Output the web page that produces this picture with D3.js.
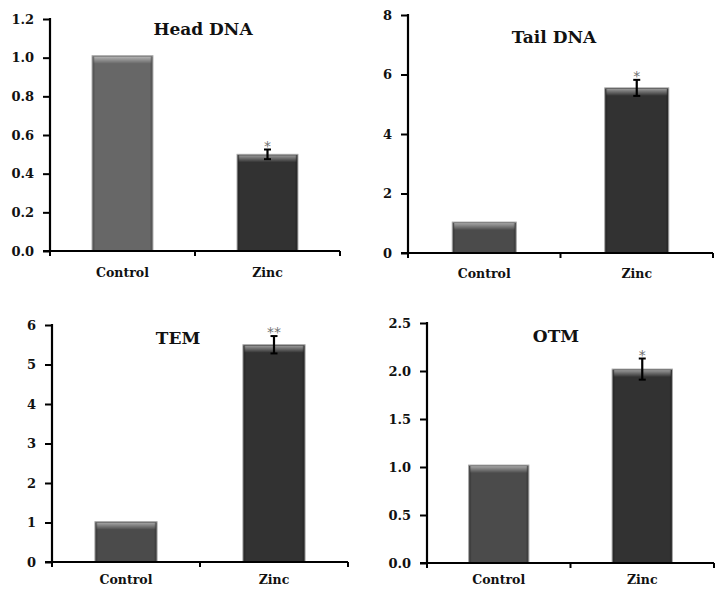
<!DOCTYPE html>
<html>
<head>
<meta charset="utf-8">
<script src="https://cdn.jsdelivr.net/npm/d3@7"></script>
<style>
  body { margin: 0; background: #fff; }
  svg { display: block; }
  text { font-family: "DejaVu Serif", "Liberation Serif", serif; font-weight: bold; fill: #111; }
</style>
</head>
<body>
<script>
// data
var categories = ["Control", "Zinc"];
var titles = ["Head DNA", "Tail DNA", "TEM", "OTM"];
var headDNA = [1.01, 0.50];
var tailDNA = [1.04, 5.55];
var tem = [1.02, 5.50];
var otm = [1.02, 2.02];
var zincErr = [0.025, 0.27, 0.22, 0.11];
var signif = ["*", "*", "**", "*"];
var yMax = [1.2, 8, 6, 2.5];
var yTicks = [
  [0, 0.2, 0.4, 0.6, 0.8, 1.0, 1.2],
  [0, 2, 4, 6, 8],
  [0, 1, 2, 3, 4, 5, 6],
  [0, 0.5, 1.0, 1.5, 2.0, 2.5]
];
var tickFormats = [".1f", "d", "d", ".1f"];

var seriesList = [headDNA, tailDNA, tem, otm];

// panel frames (pixel layout)
var frames = [
  {left: 50, top: 19, bottom: 251, right: 340, tx: 203, ty: 35, ly: 26, control: "#676767"},
  {left: 408, top: 15, bottom: 253, right: 713, tx: 554, ty: 43, ly: 25, control: "#4b4b4b"},
  {left: 52, top: 325, bottom: 562, right: 348, tx: 178, ty: 344, ly: 22, control: "#4b4b4b"},
  {left: 427, top: 323, bottom: 563, right: 714, tx: 556, ty: 342, ly: 21, control: "#4b4b4b"}
];
var zincColor = "#323232";

var svg = d3.select("body").append("svg")
  .attr("width", 716)
  .attr("height", 590);

var defs = svg.append("defs");
var grad = defs.append("linearGradient")
  .attr("id", "shine").attr("x1", 0).attr("y1", 0).attr("x2", 0).attr("y2", 1);
grad.append("stop").attr("offset", "0%").attr("stop-color", "#fff").attr("stop-opacity", 0.5);
grad.append("stop").attr("offset", "100%").attr("stop-color", "#fff").attr("stop-opacity", 0);

seriesList.forEach(function(values, i) {
  var f = frames[i];
  var w = f.right - f.left;

  var g = svg.append("g")
    .attr("transform", "translate(" + f.left + "," + 0 + ")");

  var x = d3.scaleBand()
    .domain(categories)
    .range([0, w])
    .paddingInner(0.58)
    .paddingOuter(0.29);

  var y = d3.scaleLinear()
    .domain([0, yMax[i]])
    .range([f.bottom, f.top]);

  // bars
  categories.forEach(function(c, j) {
    var bx = x(c), bw = x.bandwidth();
    var by = y(values[j]);
    var bh = f.bottom - by;
    g.append("rect")
      .attr("x", bx).attr("y", by)
      .attr("width", bw).attr("height", bh)
      .attr("fill", j == 0 ? f.control : zincColor)
      .attr("stroke", "#a8a8a8")
      .attr("stroke-width", 1);
    g.append("rect")
      .attr("x", bx + 1.5).attr("y", by + 1)
      .attr("width", bw - 3).attr("height", 7)
      .attr("fill", "url(#shine)");
    g.append("rect")
      .attr("x", bx + 0.5).attr("y", by + 1)
      .attr("width", 2).attr("height", bh - 1)
      .attr("fill", "#000").attr("opacity", 0.15);
    g.append("rect")
      .attr("x", bx + bw - 2.5).attr("y", by + 1)
      .attr("width", 2).attr("height", bh - 1)
      .attr("fill", "#000").attr("opacity", 0.15);
  });

  // error bar on zinc
  var cx = x("Zinc") + x.bandwidth() / 2;
  var hi = y(values[1] + zincErr[i]);
  var lo = y(values[1] - zincErr[i]);
  g.append("line")
    .attr("x1", cx).attr("x2", cx).attr("y1", hi).attr("y2", lo)
    .attr("stroke", "#000").attr("stroke-width", 2.2);
  [hi, lo].forEach(function(yy) {
    g.append("line")
      .attr("x1", cx - 3.5).attr("x2", cx + 3.5).attr("y1", yy).attr("y2", yy)
      .attr("stroke", "#000").attr("stroke-width", 2);
  });
  g.append("text")
    .attr("x", cx).attr("y", hi + 1)
    .attr("text-anchor", "middle")
    .style("font-size", "14px")
    .style("font-family", "DejaVu Sans, sans-serif")
    .style("font-weight", "normal")
    .style("fill", "#707070")
    .text(signif[i]);

  // y axis
  var yAxis = d3.axisLeft(y)
    .tickValues(yTicks[i])
    .tickSize(7)
    .tickPadding(9)
    .tickFormat(d3.format(tickFormats[i]));
  var ya = g.append("g").call(yAxis);
  ya.select(".domain").remove();
  ya.selectAll("line").attr("stroke", "#000").attr("stroke-width", 2);
  ya.selectAll("text").style("font-size", "13px").style("font-family", "DejaVu Serif, serif").attr("fill", "#111");
  g.append("line")
    .attr("x1", 0).attr("x2", 0).attr("y1", f.top - 1).attr("y2", f.bottom + 1)
    .attr("stroke", "#000").attr("stroke-width", 2.2);

  // x axis line with boundary ticks
  g.append("line")
    .attr("x1", -7).attr("x2", w).attr("y1", f.bottom).attr("y2", f.bottom)
    .attr("stroke", "#000").attr("stroke-width", 2.2);
  [0, w / 2, w].forEach(function(tx) {
    g.append("line")
      .attr("x1", tx).attr("x2", tx).attr("y1", f.bottom).attr("y2", f.bottom + 5)
      .attr("stroke", "#000").attr("stroke-width", 2);
  });
  categories.forEach(function(c) {
    g.append("text")
      .attr("x", x(c) + x.bandwidth() / 2)
      .attr("y", f.bottom + f.ly)
      .attr("text-anchor", "middle")
      .style("font-size", "12.5px")
      .text(c);
  });

  // title
  svg.append("text")
    .attr("x", f.tx).attr("y", f.ty)
    .attr("text-anchor", "middle")
    .style("font-size", "17px")
    .text(titles[i]);
});
</script>
</body>
</html>
